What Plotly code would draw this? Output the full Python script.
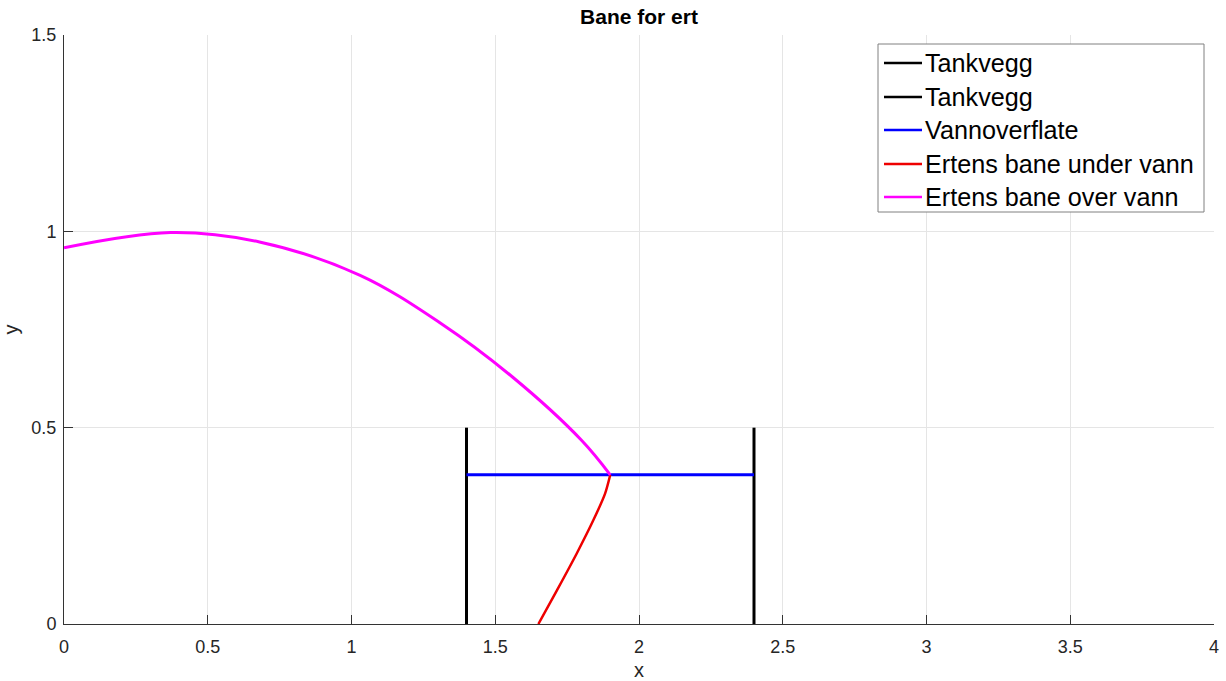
import plotly.graph_objects as go

# Tank geometry
wall_left_x = [1.4, 1.4]
wall_right_x = [2.4, 2.4]
wall_y = [0.0, 0.5]
water_x = [1.4, 2.4]
water_y = [0.38, 0.38]

# Pea trajectory below the water surface
under_x = [1.900, 1.882, 1.841, 1.783, 1.714, 1.650]
under_y = [0.380, 0.332, 0.264, 0.179, 0.085, 0.000]

# Pea trajectory above the water surface
over_x = [0.00, 0.37, 0.68, 1.03, 1.31, 1.56, 1.80, 1.90]
over_y = [0.958, 0.997, 0.973, 0.888, 0.766, 0.629, 0.468, 0.380]

x_ticks = [0, 0.5, 1, 1.5, 2, 2.5, 3, 3.5, 4]
x_labels = ["0", "0.5", "1", "1.5", "2", "2.5", "3", "3.5", "4"]
y_ticks = [0, 0.5, 1, 1.5]
y_labels = ["0", "0.5", "1", "1.5"]

legend_names = ["Tankvegg", "Tankvegg", "Vannoverflate",
                "Ertens bane under vann", "Ertens bane over vann"]
legend_colors = ["#000000", "#000000", "#0000ff", "#ee0000", "#ff00ff"]

FONT = "Arial, Liberation Sans, Helvetica, sans-serif"

W, H = 1226, 681
ML, MR, MT, MB = 64, 12, 35, 57
PW, PH = W - ML - MR, H - MT - MB


def px(xp):
    return (xp - ML) / PW


def py(yp):
    return (H - MB - yp) / PH


fig = go.Figure()
fig.add_trace(go.Scatter(x=wall_left_x, y=wall_y, mode="lines", name=legend_names[0],
                         line=dict(color=legend_colors[0], width=3)))
fig.add_trace(go.Scatter(x=wall_right_x, y=wall_y, mode="lines", name=legend_names[1],
                         line=dict(color=legend_colors[1], width=3)))
fig.add_trace(go.Scatter(x=water_x, y=water_y, mode="lines", name=legend_names[2],
                         line=dict(color=legend_colors[2], width=3)))
fig.add_trace(go.Scatter(x=under_x, y=under_y, mode="lines", name=legend_names[3],
                         line=dict(color=legend_colors[3], width=2.5, shape="spline", smoothing=0.8)))
fig.add_trace(go.Scatter(x=over_x, y=over_y, mode="lines", name=legend_names[4],
                         line=dict(color=legend_colors[4], width=3, shape="spline")))

# Legend box drawn in paper coordinates (MATLAB-style compact legend)
box_l, box_r, box_t, box_b = 878, 1204, 44, 212
row_y = [63, 97, 130, 164, 197]
shapes = [dict(type="rect", xref="paper", yref="paper",
               x0=px(box_l), x1=px(box_r), y0=py(box_b), y1=py(box_t),
               line=dict(color="#808080", width=1), fillcolor="#ffffff", layer="above")]
annotations = []
for name, color, yy in zip(legend_names, legend_colors, row_y):
    shapes.append(dict(type="line", xref="paper", yref="paper",
                       x0=px(884), x1=px(922), y0=py(yy), y1=py(yy),
                       line=dict(color=color, width=2.5), layer="above"))
    annotations.append(dict(text=name, xref="paper", yref="paper",
                            x=px(923), y=py(yy), xanchor="left", yanchor="middle",
                            showarrow=False,
                            font=dict(family=FONT, size=25.2, color="#000000")))

axis_common = dict(
    showgrid=True, gridcolor="#e5e5e5", gridwidth=1,
    showline=True, linecolor="#333333", linewidth=1,
    ticks="inside", ticklen=9, tickcolor="#333333", tickwidth=1,
    tickfont=dict(family=FONT, size=18, color="#262626"),
    zeroline=False, mirror=False, automargin=False,
)

fig.update_layout(
    width=W, height=H,
    margin=dict(l=ML, r=MR, t=MT, b=MB),
    paper_bgcolor="#ffffff", plot_bgcolor="#ffffff",
    font=dict(family=FONT, color="#262626"),
    title=dict(text="<b>Bane for ert</b>", x=0.5, xref="paper", xanchor="center",
               y=1 - 17 / H, yref="container", yanchor="middle",
               font=dict(family=FONT, size=21, color="#000000")),
    xaxis=dict(range=[0, 4], tickvals=x_ticks, ticktext=x_labels, ticklabelstandoff=6,
               title=dict(text="x", font=dict(family=FONT, size=20, color="#262626"), standoff=8),
               **axis_common),
    yaxis=dict(range=[0, 1.5], tickvals=y_ticks, ticktext=y_labels, ticklabelstandoff=3,
               title=dict(text="y", font=dict(family=FONT, size=20, color="#262626"), standoff=20),
               **axis_common),
    shapes=shapes,
    annotations=annotations,
    showlegend=False,
)

fig.write_html("out.html")
